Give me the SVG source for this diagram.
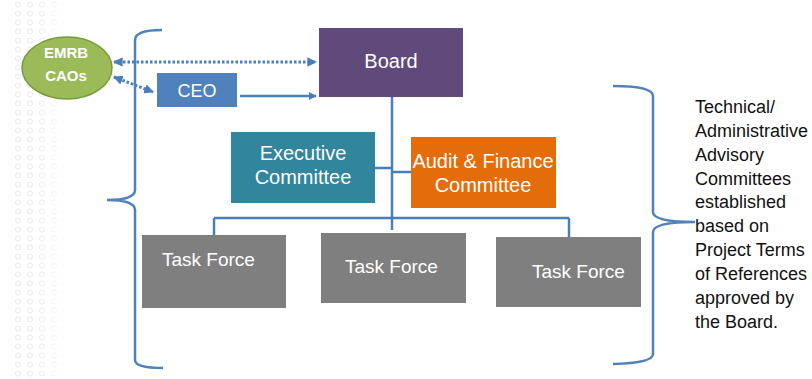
<svg xmlns="http://www.w3.org/2000/svg" width="812" height="379" viewBox="0 0 812 379">
<style>
  .lbl { font-family: "Liberation Sans", Arial, sans-serif; fill: #ffffff; }
  .side { font-family: "Liberation Sans", Arial, sans-serif; fill: #111111; font-size: 18px; }
  .conn { stroke: #4a7ebb; stroke-width: 2.5; fill: none; }
  .dot { stroke: #4a7ebb; stroke-width: 3; fill: none; stroke-dasharray: 2.5 2; }
  .brace { stroke: #4f81bd; stroke-width: 2.5; fill: none; }
</style>
<defs>
  <marker id="ah" viewBox="0 0 10 10" refX="9" refY="5" markerWidth="3.2" markerHeight="3.2" orient="auto-start-reverse">
    <path d="M0,0 L10,5 L0,10 z" fill="#4a7ebb"/>
  </marker>
  <pattern id="bgp" width="12" height="9" patternUnits="userSpaceOnUse">
    <circle cx="6" cy="4.5" r="2.6" fill="none" stroke="#e6e9ec" stroke-width="1"/>
  </pattern>
  <linearGradient id="fade" x1="0" y1="0" x2="1" y2="0">
    <stop offset="0" stop-color="#fff" stop-opacity="0.2"/>
    <stop offset="1" stop-color="#fff" stop-opacity="1"/>
  </linearGradient>
</defs>
<rect width="812" height="379" fill="#ffffff"/>
<rect x="10" y="0" width="56" height="379" fill="url(#bgp)"/>
<rect x="40" y="0" width="28" height="379" fill="url(#fade)"/>

<g id="connectors">
  <line class="dot" x1="114" y1="62" x2="316" y2="62" marker-start="url(#ah)" marker-end="url(#ah)"/>
  <line class="dot" x1="114" y1="77" x2="153" y2="92" marker-start="url(#ah)" marker-end="url(#ah)"/>
  <line class="conn" x1="240" y1="96" x2="316" y2="96" marker-end="url(#ah)"/>
  <line class="conn" x1="392" y1="97" x2="392" y2="230"/>
  <line class="conn" x1="375" y1="168" x2="392" y2="168"/>
  <line class="conn" x1="392" y1="172" x2="411" y2="172"/>
  <line class="conn" x1="214" y1="218" x2="569" y2="218"/>
  <line class="conn" x1="214" y1="218" x2="214" y2="235"/>
  <line class="conn" x1="569" y1="218" x2="569" y2="237"/>
  <path class="brace" d="M162,30 Q135,30 135,40 L135,190 Q135,200 107,200 Q135,200 135,210 L135,360 Q135,368 163,368"/>
  <path class="brace" d="M613,86 Q653,86 653,96 L653,212 Q653,222 695,222 Q653,222 653,232 L653,354 Q653,363 613,364"/>
</g>

<g id="emrb">
  <ellipse cx="67" cy="68" rx="45" ry="31" fill="#9bbb59" stroke="#7a9a3e" stroke-width="1.5"/>
  <text class="lbl" x="66" y="58" font-size="15" font-weight="bold" text-anchor="middle">EMRB</text>
  <text class="lbl" x="66" y="81" font-size="15" font-weight="bold" text-anchor="middle">CAOs</text>
</g>

<g id="ceo">
  <rect x="157" y="73" width="80" height="34" fill="#4f81bd"/>
  <text class="lbl" x="197" y="97" font-size="18" text-anchor="middle">CEO</text>
</g>

<g id="board">
  <rect x="319" y="28" width="144" height="69" fill="#604a7b"/>
  <text class="lbl" x="391" y="68" font-size="20" text-anchor="middle">Board</text>
</g>

<g id="executive">
  <rect x="231" y="132" width="144" height="71" fill="#31859c"/>
  <text class="lbl" x="303" y="160" font-size="20" text-anchor="middle">Executive</text>
  <text class="lbl" x="303" y="184" font-size="20" text-anchor="middle">Committee</text>
</g>

<g id="audit">
  <rect x="411" y="137" width="145" height="71" fill="#e46c0a"/>
  <text class="lbl" x="483" y="168" font-size="20" text-anchor="middle">Audit &amp; Finance</text>
  <text class="lbl" x="483" y="192" font-size="20" text-anchor="middle">Committee</text>
</g>

<g id="task1">
  <rect x="142" y="235" width="144" height="73" fill="#7f7f7f"/>
  <text class="lbl" x="162" y="266" font-size="19">Task Force</text>
</g>

<g id="task2">
  <rect x="321" y="233" width="145" height="70" fill="#7f7f7f"/>
  <text class="lbl" x="345" y="273" font-size="19">Task Force</text>
</g>

<g id="task3">
  <rect x="496" y="237" width="145" height="70" fill="#7f7f7f"/>
  <text class="lbl" x="532" y="278" font-size="19">Task Force</text>
</g>

<g id="note">
  <text class="side" x="695" y="113">Technical/</text>
  <text class="side" x="695" y="137">Administrative</text>
  <text class="side" x="695" y="161">Advisory</text>
  <text class="side" x="695" y="185">Committees</text>
  <text class="side" x="695" y="208">established</text>
  <text class="side" x="695" y="232">based on</text>
  <text class="side" x="695" y="256">Project Terms</text>
  <text class="side" x="695" y="280">of References</text>
  <text class="side" x="695" y="304">approved by</text>
  <text class="side" x="695" y="328">the Board.</text>
</g>
</svg>
